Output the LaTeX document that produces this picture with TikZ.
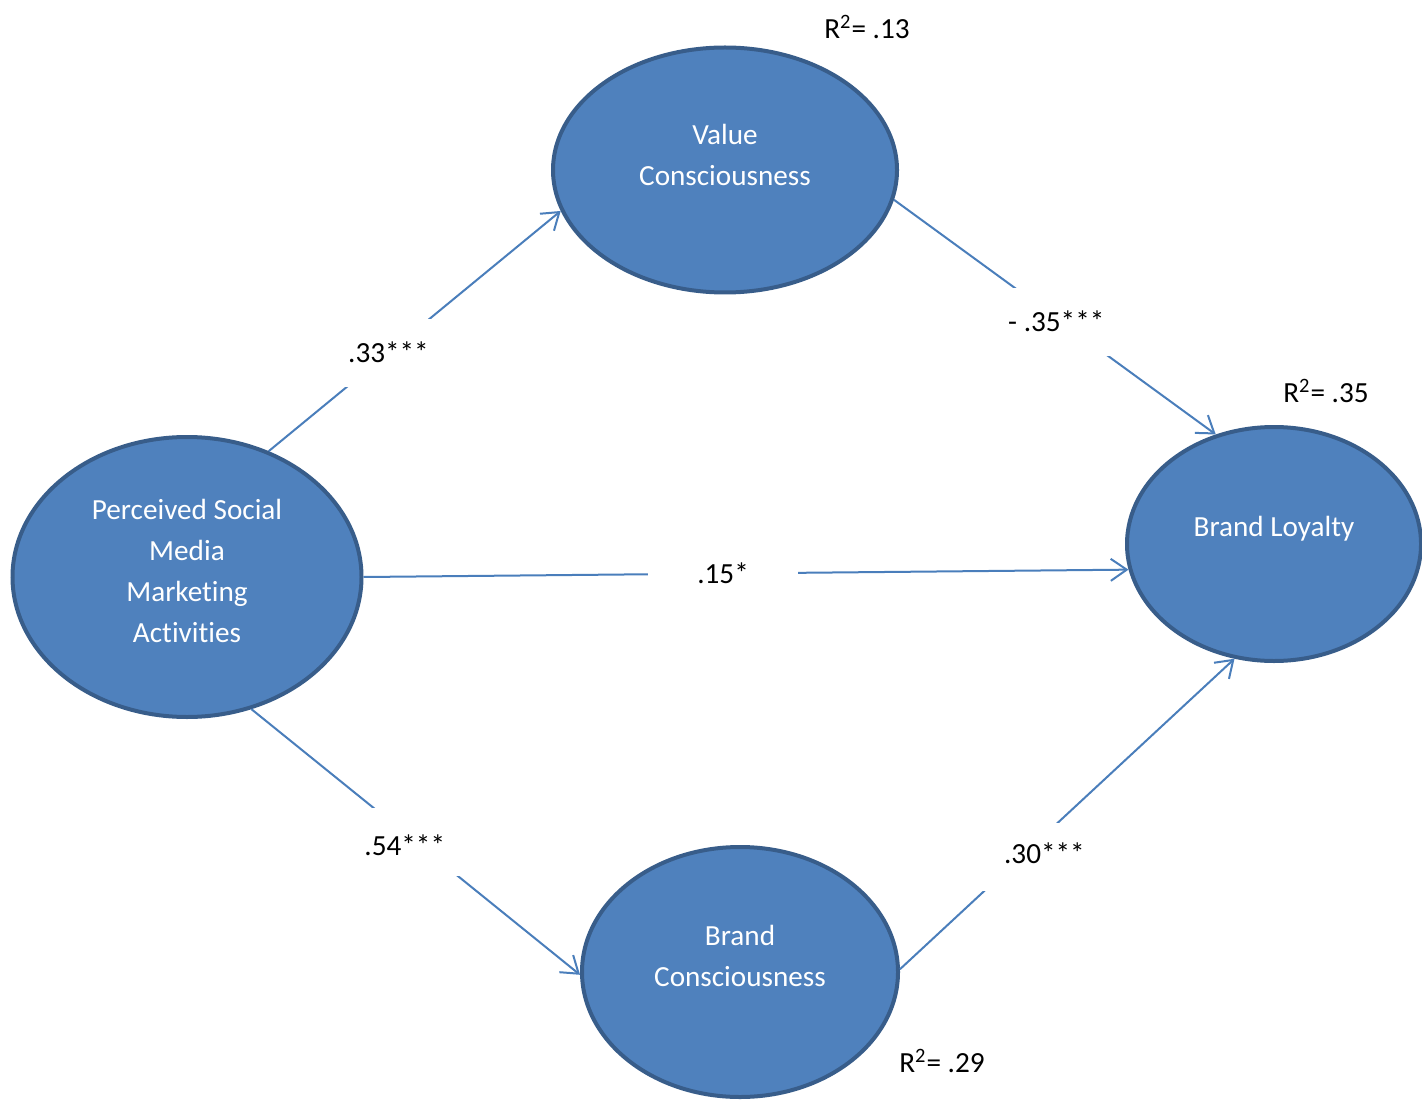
\documentclass[tikz,border=0pt]{standalone}
\usepackage{fontspec}
\setmainfont{Carlito}[Ligatures={NoCommon}]
\usepackage{xcolor}
\usetikzlibrary{shapes.geometric,arrows.meta}

\definecolor{nodefill}{HTML}{4F81BD}
\definecolor{nodeline}{HTML}{385D8A}
\definecolor{linkline}{HTML}{4A7EBB}

\begin{document}
\begin{tikzpicture}[x=0.5pt, y=-0.5pt,
    construct/.style={ellipse, draw=nodeline, line width=2pt, fill=nodefill, inner sep=0pt},
    inside/.style={text=white, align=center, font=\fontsize{14.6}{20.5}\selectfont},
    link/.style={draw=linkline, line width=1pt, -{Straight Barb[length=8pt, width=11pt]}},
    coef/.style={fill=white, minimum width=75pt, minimum height=34pt, inner sep=0pt, font=\fontsize{14.6}{17}\selectfont},
    rsq/.style={font=\fontsize{14.6}{17}\selectfont}]

    \useasboundingbox (0,0) rectangle (1422,1101);

    % Constructs
    \node[construct, minimum width=174.5pt, minimum height=140pt,
          label={[inside, yshift=3pt]center:Perceived Social\\Media\\Marketing\\Activities}] (psm) at (187,577) {};
    \node[construct, minimum width=172pt, minimum height=122.5pt,
          label={[inside, yshift=7.5pt]center:Value\\Consciousness}] (val) at (725,170) {};
    \node[construct, minimum width=158pt, minimum height=125pt,
          label={[inside, yshift=8pt]center:Brand\\Consciousness}] (bc) at (740,972) {};
    \node[construct, minimum width=147pt, minimum height=117pt,
          label={[inside, yshift=7.5pt]center:Brand Loyalty}] (bl) at (1274,544) {};

    % R squared
    \node[rsq] (r2val) at (867,27) {R\textsuperscript{2}= .13};
    \node[rsq] (r2bl) at (1326,391) {R\textsuperscript{2}= .35};
    \node[rsq] (r2bc) at (942,1061) {R\textsuperscript{2}= .29};

    % Paths
    \draw[link] (psm.57) -- (val.194) node[coef, pos=0.41] (c1) {.33***};
    \draw[link] (val.350) -- (bl.118) node[coef, pos=0.52, label={[rsq, xshift=-2.5pt, yshift=0.5pt]center:- .35***}] (c2) {};
    \draw[link] (psm.east) -- (bl.190) node[coef, pos=0.47] (c3) {.15*};
    \draw[link] (psm.296) -- (bc.181) node[coef, pos=0.50, label={[rsq, xshift=-5.5pt, yshift=-1.5pt]center:.54***}] (c4) {};
    \draw[link] (bc.1) -- (bl.251) node[coef, pos=0.36, label={[rsq, xshift=12pt, yshift=2pt]center:.30***}] (c5) {};

\end{tikzpicture}
\end{document}
